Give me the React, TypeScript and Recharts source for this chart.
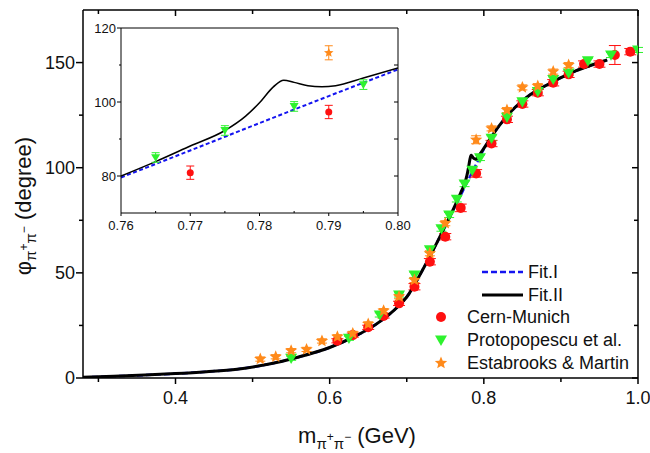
import React from "react";
import { ComposedChart, Line, Scatter, XAxis, YAxis, ErrorBar, Legend } from "recharts";

// Fit.II (solid) and Fit.I (dashed)
const fit2X = [0.28, 0.32, 0.36, 0.40, 0.44, 0.48, 0.52, 0.56, 0.60, 0.63, 0.66, 0.69, 0.70, 0.72, 0.74, 0.76, 0.765, 0.77, 0.775, 0.778, 0.78, 0.782, 0.7835, 0.785, 0.787, 0.789, 0.791, 0.795, 0.80, 0.82, 0.84, 0.86, 0.88, 0.90, 0.92, 0.94, 0.96];
const fit2Y = [0.3, 0.8, 1.4, 2.1, 3.0, 4.2, 6.5, 10.0, 14.5, 19.3, 25.5, 34.5, 38.5, 51, 65, 80, 83.9, 88.1, 92.3, 96.2, 99.8, 104.1, 105.9, 105.3, 104.4, 104.1, 104.4, 106.5, 109.2, 120, 128.5, 134.7, 139, 142.8, 146.2, 148.8, 151.2];
const fit1X = [0.28, 0.32, 0.36, 0.40, 0.44, 0.48, 0.52, 0.56, 0.60, 0.63, 0.66, 0.69, 0.70, 0.72, 0.74, 0.76, 0.77, 0.78, 0.79, 0.80, 0.82, 0.84, 0.86, 0.88, 0.90, 0.92, 0.94, 0.96];
const fit1Y = [0.3, 0.8, 1.4, 2.1, 3.0, 4.2, 6.5, 10.0, 14.5, 19.3, 25.5, 34.5, 38.5, 51, 65, 79.6, 86.9, 94.3, 101.6, 108.8, 120, 128.5, 134.7, 139, 142.8, 146.2, 148.8, 151.2];

// Cern-Munich
const cernX = [0.61, 0.63, 0.65, 0.67, 0.69, 0.71, 0.73, 0.75, 0.77, 0.79, 0.81, 0.83, 0.85, 0.87, 0.89, 0.91, 0.93, 0.95, 0.97, 0.99];
const cernY = [17.7, 20.4, 24.1, 29.5, 35.5, 43.4, 55.3, 67.2, 80.9, 97.3, 111.5, 123.0, 130.3, 135.7, 140.4, 144.4, 149.3, 149.3, 153.6, 155.2];
const cernErr = [1, 1, 1, 1, 1, 1.5, 1.5, 1.5, 1.8, 1.8, 1.5, 1.5, 1.5, 1.5, 1.5, 1.5, 1.5, 1.5, 4.5, 1.5];

// Protopopescu et al.
const protoX = [0.55, 0.625, 0.665, 0.69, 0.71, 0.73, 0.745, 0.755, 0.765, 0.775, 0.785, 0.795, 0.81, 0.83, 0.85, 0.87, 0.89, 0.91, 0.935, 0.965, 1.0];
const protoY = [9.4, 18.9, 30.0, 39.5, 49, 61, 71, 77.5, 85, 92.3, 98.8, 104.7, 114, 124, 131.4, 136.2, 142, 145, 150.9, 153.6, 156];
const protoErr = [1, 1, 1, 1, 1.2, 1.2, 1.2, 1.2, 1.3, 1.3, 1.3, 1.3, 1.2, 1.2, 1.2, 1.2, 1.2, 1.2, 1.2, 1.2, 1.2];

// Estabrooks & Martin
const estX = [0.51, 0.53, 0.55, 0.57, 0.59, 0.61, 0.63, 0.65, 0.67, 0.69, 0.71, 0.73, 0.75, 0.79, 0.81, 0.83, 0.85, 0.87, 0.89, 0.91];
const estY = [9.0, 10.1, 13.0, 13.6, 17.6, 19.6, 21.2, 25.7, 32.0, 38.7, 46.6, 59.3, 73.6, 113.3, 118.7, 127.4, 138.2, 138.8, 145.7, 148.8];
const estErr = [1, 1, 1, 1, 1, 1, 1, 1, 1, 1, 1.2, 1.2, 1.2, 1.9, 1.2, 1.2, 1.2, 1.2, 1.2, 1.2];

// ticks
const mainXTicks = [0.3, 0.4, 0.5, 0.6, 0.7, 0.8, 0.9, 1.0];
const mainXLabels = [0.4, 0.6, 0.8, 1.0];
const mainYTicks = [0, 25, 50, 75, 100, 125, 150];
const mainYLabels = [0, 50, 100, 150];
const insetXTicks = [0.76, 0.765, 0.77, 0.775, 0.78, 0.785, 0.79, 0.795, 0.8];
const insetYTicks = [80, 90, 100, 110, 120];
const insetYLabels = [80, 100, 120];
const insetRightTicks = [80, 90, 100, 110];

const FONT = '"Liberation Sans", Arial, sans-serif';
const RED = "#ff1010";
const GREEN = "#2ef22e";
const ORANGE = "#ff8a1a";
const BLUE = "#1414f0";

const zip = (xs: number[], ys: number[], es?: number[]) =>
  xs.map((x, i) => ({ x, y: ys[i], e: es ? es[i] : 0 }));

const fit1 = zip(fit1X, fit1Y);
const fit2 = zip(fit2X, fit2Y);
const cern = zip(cernX, cernY, cernErr);
const proto = zip(protoX, protoY, protoErr);
const est = zip(estX, estY, estErr);

const inRange = (d: { x: number }) => d.x >= 0.76 - 1e-9 && d.x <= 0.8 + 1e-9;

const has = (list: number[], v: number) => list.some((m) => Math.abs(m - v) < 1e-6);

function starPoints(cx: number, cy: number, R: number) {
  const pts: string[] = [];
  for (let i = 0; i < 10; i++) {
    const r = i % 2 === 0 ? R : R * 0.45;
    const a = -Math.PI / 2 + (i * Math.PI) / 5;
    pts.push(`${cx + r * Math.cos(a)},${cy + r * Math.sin(a)}`);
  }
  return pts.join(" ");
}

const circleShape = (r: number) => (p: any) => <circle cx={p.cx} cy={p.cy} r={r} fill={RED} />;
const triShape = (s: number) => (p: any) => (
  <polygon
    points={`${p.cx - s},${p.cy - s * 0.75} ${p.cx + s},${p.cy - s * 0.75} ${p.cx},${p.cy + s * 0.95}`}
    fill={GREEN}
  />
);
const starShape = (r: number) => (p: any) => <polygon points={starPoints(p.cx, p.cy, r)} fill={ORANGE} />;
const noShape = () => <g />;

// ---- main axis ticks ----
function MainBottomTick(p: any) {
  const v = p.payload.value;
  const major = has(mainXLabels, v);
  return (
    <g>
      <line x1={p.x} x2={p.x} y1={p.y} y2={p.y + (major ? 6 : 4)} stroke="#000" strokeWidth={1.5} />
      {major && (
        <text x={p.x} y={p.y + 26} textAnchor="middle" fontSize={18} fontFamily={FONT} fill="#111">
          {v.toFixed(1)}
        </text>
      )}
    </g>
  );
}
function MainTopTick(p: any) {
  const major = has(mainXLabels, p.payload.value);
  return <line x1={p.x} x2={p.x} y1={p.y} y2={p.y + (major ? 6 : 4)} stroke="#000" strokeWidth={1.5} />;
}
function MainLeftTick(p: any) {
  const v = p.payload.value;
  const major = has(mainYLabels, v);
  return (
    <g>
      <line x1={p.x} x2={p.x - (major ? 7 : 4)} y1={p.y} y2={p.y} stroke="#000" strokeWidth={1.5} />
      {major && (
        <text x={p.x - 8} y={p.y} dy="0.36em" textAnchor="end" fontSize={18} fontFamily={FONT} fill="#111">
          {v}
        </text>
      )}
    </g>
  );
}
function MainRightTick(p: any) {
  const major = has(mainYLabels, p.payload.value);
  return <line x1={p.x} x2={p.x - (major ? 6 : 4)} y1={p.y} y2={p.y} stroke="#000" strokeWidth={1.5} />;
}

// ---- inset ticks ----
function InsetBottomTick(p: any) {
  const v = p.payload.value;
  const major = Math.round(v * 1000) % 10 === 0;
  return (
    <g>
      <line x1={p.x} x2={p.x} y1={p.y} y2={major ? p.y + 3 : p.y - 2} stroke="#000" strokeWidth={1} />
      {major && (
        <text x={p.x} y={p.y + 17} textAnchor="middle" fontSize={13} fontFamily={FONT} fill="#111">
          {v.toFixed(2)}
        </text>
      )}
    </g>
  );
}
function InsetLeftTick(p: any) {
  const v = p.payload.value;
  const major = has(insetYLabels, v);
  return (
    <g>
      <line x1={p.x} x2={p.x - (major ? 4 : 2)} y1={p.y} y2={p.y} stroke="#000" strokeWidth={1} />
      {major && (
        <text x={p.x - 5} y={p.y} dy="0.36em" textAnchor="end" fontSize={13} fontFamily={FONT} fill="#111">
          {v}
        </text>
      )}
    </g>
  );
}
function InsetRightTick(p: any) {
  return <line x1={p.x} x2={p.x - 4} y1={p.y} y2={p.y} stroke="#000" strokeWidth={1} />;
}

// ---- axis titles ----
function YTitle() {
  return (
    <text
      x={31}
      y={206}
      transform="rotate(-90, 31, 206)"
      textAnchor="middle"
      fontFamily={FONT}
      fontSize={22}
      fill="#111"
    >
      <tspan>φ</tspan>
      <tspan fontSize={15} dy={5}>π</tspan>
      <tspan fontSize={12} dy={-8}>+</tspan>
      <tspan fontSize={15} dy={8}>π</tspan>
      <tspan fontSize={12} dy={-8}>−</tspan>
      <tspan dy={3}> (degree)</tspan>
    </text>
  );
}
function XTitle() {
  return (
    <text x={357} y={443} textAnchor="middle" fontFamily={FONT} fontSize={22} fill="#111">
      <tspan>m</tspan>
      <tspan fontSize={15} dy={6}>π</tspan>
      <tspan fontSize={12} dy={-8}>+</tspan>
      <tspan fontSize={15} dy={8}>π</tspan>
      <tspan fontSize={12} dy={-8}>−</tspan>
      <tspan dy={2}> (GeV)</tspan>
    </text>
  );
}

function LegendBox() {
  const txt = { fontFamily: FONT, fontSize: 18, fill: "#111" } as const;
  return (
    <svg width={215} height={120} style={{ display: "block" }}>
      <line x1={57} x2={98} y1={14} y2={14} stroke={BLUE} strokeWidth={2.5} strokeDasharray="6 3" />
      <text x={103} y={20} {...txt}>Fit.I</text>
      <line x1={57} x2={98} y1={37} y2={37} stroke="#000" strokeWidth={3} />
      <text x={103} y={43} {...txt}>Fit.II</text>
      <circle cx={16} cy={59} r={5} fill={RED} />
      <text x={42} y={65} {...txt}>Cern-Munich</text>
      <polygon points={`${10},${77.5} ${22},${77.5} ${16},${88}`} fill={GREEN} />
      <text x={42} y={88} {...txt}>Protopopescu et al.</text>
      <polygon points={starPoints(16, 105, 6.5)} fill={ORANGE} />
      <text x={42} y={111} {...txt}>Estabrooks &amp; Martin</text>
    </svg>
  );
}

export default function App() {
  return (
    <div style={{ position: "absolute", left: 0, top: 0, width: 650, height: 453, background: "#fff" }}>
      <ComposedChart width={650} height={453} margin={{ top: 9, right: 11, bottom: 0, left: 0 }}>
        <XAxis
          xAxisId="b"
          type="number"
          dataKey="x"
          domain={[0.28, 1.0]}
          allowDataOverflow
          ticks={mainXTicks}
          interval={0}
          height={75}
          tickSize={0}
          tickMargin={0}
          tickLine={false}
          tick={MainBottomTick}
          axisLine={{ stroke: "#000", strokeWidth: 1.5 }}
          label={{ content: () => <XTitle /> }}
        />
        <XAxis
          xAxisId="t"
          orientation="top"
          type="number"
          dataKey="x"
          domain={[0.28, 1.0]}
          allowDataOverflow
          ticks={mainXTicks}
          interval={0}
          height={1}
          tickSize={0}
          tickMargin={0}
          tickLine={false}
          tick={MainTopTick}
          axisLine={{ stroke: "#000", strokeWidth: 1.5 }}
        />
        <YAxis
          yAxisId="l"
          type="number"
          dataKey="y"
          domain={[0, 175]}
          allowDataOverflow
          ticks={mainYTicks}
          interval={0}
          width={83}
          tickSize={0}
          tickMargin={0}
          tickLine={false}
          tick={MainLeftTick}
          axisLine={{ stroke: "#000", strokeWidth: 1.5 }}
          label={{ content: () => <YTitle /> }}
        />
        <YAxis
          yAxisId="r"
          orientation="right"
          type="number"
          dataKey="y"
          domain={[0, 175]}
          allowDataOverflow
          ticks={mainYTicks}
          interval={0}
          width={1}
          tickSize={0}
          tickMargin={0}
          tickLine={false}
          tick={MainRightTick}
          axisLine={{ stroke: "#000", strokeWidth: 1.5 }}
        />
        <Legend
          layout="horizontal"
          verticalAlign="middle"
          align="center"
          content={() => <LegendBox />}
          wrapperStyle={{ left: 425, top: 258, width: 215, height: 120 }}
        />
        {/* invisible series so the top and right frame axes are drawn */}
        <Scatter data={cern} xAxisId="t" yAxisId="r" dataKey="y" shape={noShape} legendType="none" isAnimationActive={false} />
        <Line data={fit1} xAxisId="b" yAxisId="l" dataKey="y" type="monotone" stroke={BLUE} strokeWidth={2.5} strokeDasharray="6 3" dot={false} isAnimationActive={false} />
        <Scatter data={cern} xAxisId="b" yAxisId="l" dataKey="y" shape={circleShape(5)} isAnimationActive={false}>
          <ErrorBar dataKey="e" direction="y" width={6} stroke={RED} strokeWidth={1} />
        </Scatter>
        <Scatter data={proto} xAxisId="b" yAxisId="l" dataKey="y" shape={triShape(6)} isAnimationActive={false}>
          <ErrorBar dataKey="e" direction="y" width={5} stroke={GREEN} strokeWidth={1} />
        </Scatter>
        <Scatter data={est} xAxisId="b" yAxisId="l" dataKey="y" shape={starShape(6.5)} isAnimationActive={false}>
          <ErrorBar dataKey="e" direction="y" width={5} stroke={ORANGE} strokeWidth={1} />
        </Scatter>
        <Line data={fit2} xAxisId="b" yAxisId="l" dataKey="y" type="monotone" stroke="#000" strokeWidth={3} dot={false} isAnimationActive={false} />
      </ComposedChart>

      <div style={{ position: "absolute", left: 88, top: 18 }}>
        <ComposedChart width={332} height={220} margin={{ top: 9, right: 21, bottom: 0, left: 0 }}>
          <XAxis
            xAxisId="b"
            type="number"
            dataKey="x"
            domain={[0.76, 0.8]}
            allowDataOverflow
            ticks={insetXTicks}
            interval={0}
            height={25}
            tickSize={0}
            tickMargin={0}
            tickLine={false}
            tick={InsetBottomTick}
            axisLine={{ stroke: "#000", strokeWidth: 1 }}
          />
          <XAxis
            xAxisId="t"
            orientation="top"
            type="number"
            dataKey="x"
            domain={[0.76, 0.8]}
            allowDataOverflow
            height={1}
            tick={false}
            tickLine={false}
            axisLine={{ stroke: "#000", strokeWidth: 1 }}
          />
          <YAxis
            yAxisId="l"
            type="number"
            dataKey="y"
            domain={[70, 120]}
            allowDataOverflow
            ticks={insetYTicks}
            interval={0}
            width={33}
            tickSize={0}
            tickMargin={0}
            tickLine={false}
            tick={InsetLeftTick}
            axisLine={{ stroke: "#000", strokeWidth: 1 }}
          />
          <YAxis
            yAxisId="r"
            orientation="right"
            type="number"
            dataKey="y"
            domain={[70, 120]}
            allowDataOverflow
            ticks={insetRightTicks}
            interval={0}
            width={1}
            tickSize={0}
            tickMargin={0}
            tickLine={false}
            tick={InsetRightTick}
            axisLine={{ stroke: "#000", strokeWidth: 1 }}
          />
          <Scatter data={cern.filter(inRange)} xAxisId="t" yAxisId="r" dataKey="y" shape={noShape} isAnimationActive={false} />
          <Line data={fit1.filter(inRange)} xAxisId="b" yAxisId="l" dataKey="y" type="monotone" stroke={BLUE} strokeWidth={2} strokeDasharray="4 2.5" dot={false} isAnimationActive={false} />
          <Line data={fit2.filter(inRange)} xAxisId="b" yAxisId="l" dataKey="y" type="monotone" stroke="#000" strokeWidth={1.5} dot={false} isAnimationActive={false} />
          <Scatter data={cern.filter(inRange)} xAxisId="b" yAxisId="l" dataKey="y" shape={circleShape(3.5)} isAnimationActive={false}>
            <ErrorBar dataKey="e" direction="y" width={4} stroke={RED} strokeWidth={1} />
          </Scatter>
          <Scatter data={proto.filter(inRange)} xAxisId="b" yAxisId="l" dataKey="y" shape={triShape(4.5)} isAnimationActive={false}>
            <ErrorBar dataKey="e" direction="y" width={4} stroke={GREEN} strokeWidth={1} />
          </Scatter>
          <Scatter data={est.filter(inRange)} xAxisId="b" yAxisId="l" dataKey="y" shape={starShape(5)} isAnimationActive={false}>
            <ErrorBar dataKey="e" direction="y" width={4} stroke={ORANGE} strokeWidth={1} />
          </Scatter>
        </ComposedChart>
      </div>
    </div>
  );
}
